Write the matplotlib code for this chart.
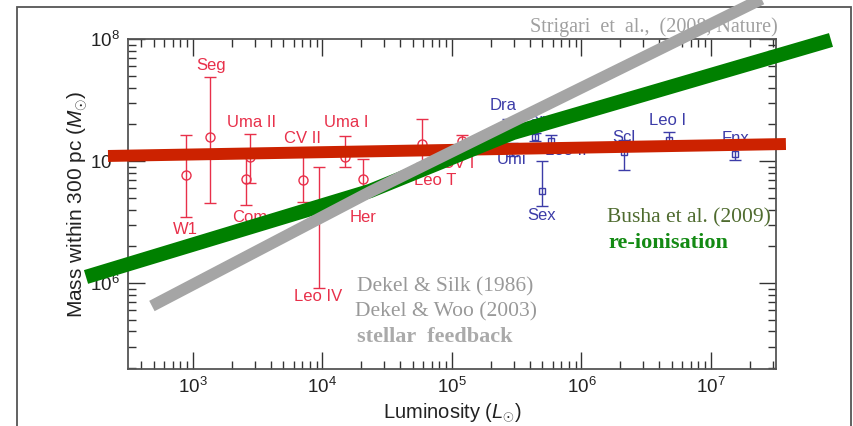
import numpy as np
import matplotlib
matplotlib.use("Agg")
import matplotlib.pyplot as plt
from matplotlib.patches import Rectangle
from matplotlib.ticker import LogLocator, NullFormatter

plt.rcParams['font.family'] = ['Liberation Sans', 'DejaVu Sans']
plt.rcParams['mathtext.fontset'] = 'custom'
plt.rcParams['mathtext.rm'] = 'Liberation Sans'
plt.rcParams['mathtext.it'] = 'Liberation Sans:italic'

# ultra-faint dwarfs (red): luminosity, mass, lower, upper
uf_names = ['W1', 'Seg', 'Com', 'Uma II', 'CV II', 'Leo IV', 'Uma I', 'Her', 'Leo T', 'CV I']
uf_L = [883, 1353, 2550, 2750, 7030, 9400, 1.49e4, 2.07e4, 5.83e4, 1.19e5]
uf_M = [7.68e6, 1.57e7, 7.1e6, 1.08e7, 6.95e6, 3.84e6, 1.08e7, 7.1e6, 1.38e7, 1.47e7]
uf_lo = [3.48e6, 4.5e6, 4.35e6, 6.6e6, 4.6e6, 9.07e5, 8.98e6, 5.8e6, 9.6e6, 1.31e7]
uf_hi = [1.63e7, 4.89e7, 1.16e7, 1.66e7, 1.19e7, 8.9e6, 1.6e7, 1.03e7, 2.21e7, 1.63e7]
uf_lab_L = [867, 1377, 2760, 2810, 7060, 9230, 1.52e4, 2.06e4, 7.4e4, 1.11e5]
uf_lab_M = [2.72e6, 6.01e7, 3.41e6, 2.05e7, 1.54e7, 7.67e5, 2.05e7, 3.41e6, 6.86e6, 9.6e6]

# classical dwarfs (blue)
cl_names = ['Dra', 'Car', 'Umi', 'Leo II', 'Sex', 'Scl', 'Leo I', 'Fnx']
cl_L = [2.7e5, 4.4e5, 2.9e5, 5.78e5, 4.98e5, 2.13e6, 4.77e6, 1.53e7]
cl_M = [2.05e7, 1.57e7, 1.23e7, 1.46e7, 5.68e6, 1.19e7, 1.49e7, 1.14e7]
cl_lo = [1.9e7, 1.45e7, 1.1e7, 1.3e7, 4.28e6, 8.36e6, 1.33e7, 1.02e7]
cl_hi = [2.2e7, 1.7e7, 1.4e7, 1.63e7, 1.005e7, 1.49e7, 1.72e7, 1.28e7]
cl_lab_L = [2.48e5, 4.15e5, 2.9e5, 7.59e5, 4.96e5, 2.13e6, 4.66e6, 1.56e7]
cl_lab_M = [2.83e7, 2.13e7, 1.02e7, 1.23e7, 3.54e6, 1.57e7, 2.13e7, 1.54e7]

# model curves (log10 L, log10 M)
red_logL = [2.344, 7.579]
red_logM = [7.041, 7.139]
green_logL = [2.174, 4.367, 5.471, 7.927]
green_logM = [6.049, 6.754, 7.230, 7.992]
gray_logL = [2.683, 4.367, 7.533]
gray_logM = [5.811, 6.746, 8.402]

red_c = '#e8304a'
blue_c = '#3c3ca8'

fig = plt.figure(figsize=(8.54, 4.26), dpi=100)
ax = fig.add_axes([128/854, 1-369/426, 648/854, 330/426])

ax.set_xscale('log')
ax.set_yscale('log')
ax.set_xlim(315, 3.18e7)
ax.set_ylim(1.97e5, 1e8)

uf_L = np.array(uf_L); uf_M = np.array(uf_M)
cl_L = np.array(cl_L); cl_M = np.array(cl_M)

ax.errorbar(uf_L, uf_M, yerr=[uf_M - np.array(uf_lo), np.array(uf_hi) - uf_M],
            fmt='o', mfc='none', mec=red_c, ms=6.5, mew=1.0, ecolor=red_c,
            elinewidth=1.0, capsize=4, capthick=1.0, zorder=2)
ax.errorbar(cl_L, cl_M, yerr=[cl_M - np.array(cl_lo), np.array(cl_hi) - cl_M],
            fmt='s', mfc='none', mec=blue_c, ms=4.5, mew=1.0, ecolor=blue_c,
            elinewidth=1.0, capsize=4, capthick=1.0, zorder=2)

for n, lx, ly in zip(uf_names, uf_lab_L, uf_lab_M):
    ax.text(lx, ly, n, color=red_c, fontsize=12, ha='center', va='center', zorder=2)
for n, lx, ly in zip(cl_names, cl_lab_L, cl_lab_M):
    ax.text(lx, ly, n, color=blue_c, fontsize=12, ha='center', va='center', zorder=2)

serif = ['Liberation Serif', 'DejaVu Serif']
ax.text(0.620, 1.036, 'Strigari  et  al.,  (2008, Nature)', transform=ax.transAxes,
        family=serif, fontsize=14.5, color='#a0a0a0', va='center', ha='left', clip_on=False, zorder=2)
ax.text(0.739, 0.458, 'Busha et al. (2009)', transform=ax.transAxes,
        family=serif, fontsize=15.5, color='#4f6b2f', va='center', ha='left', zorder=2)
ax.text(0.741, 0.382, 're-ionisation', transform=ax.transAxes,
        family=serif, fontsize=16, fontweight='bold', color='#138a13', va='center', ha='left', zorder=2)
ax.text(0.353, 0.248, 'Dekel & Silk (1986)', transform=ax.transAxes,
        family=serif, fontsize=15.5, color='#999999', va='center', ha='left', zorder=2)
ax.text(0.350, 0.173, 'Dekel & Woo (2003)', transform=ax.transAxes,
        family=serif, fontsize=15.5, color='#999999', va='center', ha='left', zorder=2)
ax.text(0.353, 0.097, 'stellar  feedback', transform=ax.transAxes,
        family=serif, fontsize=16, fontweight='bold', color='#aaaaaa', va='center', ha='left', zorder=2)

ax.plot(10**np.array(red_logL), 10**np.array(red_logM), color='#cc2200', lw=8.6,
        solid_capstyle='butt', clip_on=False, zorder=4)
ax.plot(10**np.array(green_logL), 10**np.array(green_logM), color='#008000', lw=10.3,
        solid_capstyle='butt', solid_joinstyle='round', clip_on=False, zorder=5)
ax.plot(10**np.array(gray_logL), 10**np.array(gray_logM), color='#a5a5a5', lw=8.4,
        solid_capstyle='butt', solid_joinstyle='round', clip_on=False, zorder=6)

for s in ax.spines.values():
    s.set_color('#555555')
    s.set_linewidth(1.3)
ax.xaxis.set_minor_locator(LogLocator(base=10, subs=np.arange(2, 10)))
ax.yaxis.set_minor_locator(LogLocator(base=10, subs=np.arange(2, 10)))
ax.xaxis.set_minor_formatter(NullFormatter())
ax.yaxis.set_minor_formatter(NullFormatter())
ax.tick_params(which='both', direction='in', top=True, right=True, colors='#333333', width=1.0)
ax.tick_params(which='major', length=12, labelsize=13.5, pad=6, labelcolor='#222222')
ax.tick_params(which='minor', length=6)

ax.set_xlabel(r'Luminosity ($L_{\odot}$)', fontsize=14.5, color='#222222', labelpad=3)
ax.set_ylabel(r'Mass within 300 pc ($M_{\odot}$)', fontsize=15, color='#222222', labelpad=0)

fig.patches.append(Rectangle((17/854, -0.1), (851-17)/854, 1.1 - 7/426, transform=fig.transFigure,
                             fill=False, edgecolor='#555555', lw=1.3, zorder=-1))

fig.savefig('out.png', dpi=100)
